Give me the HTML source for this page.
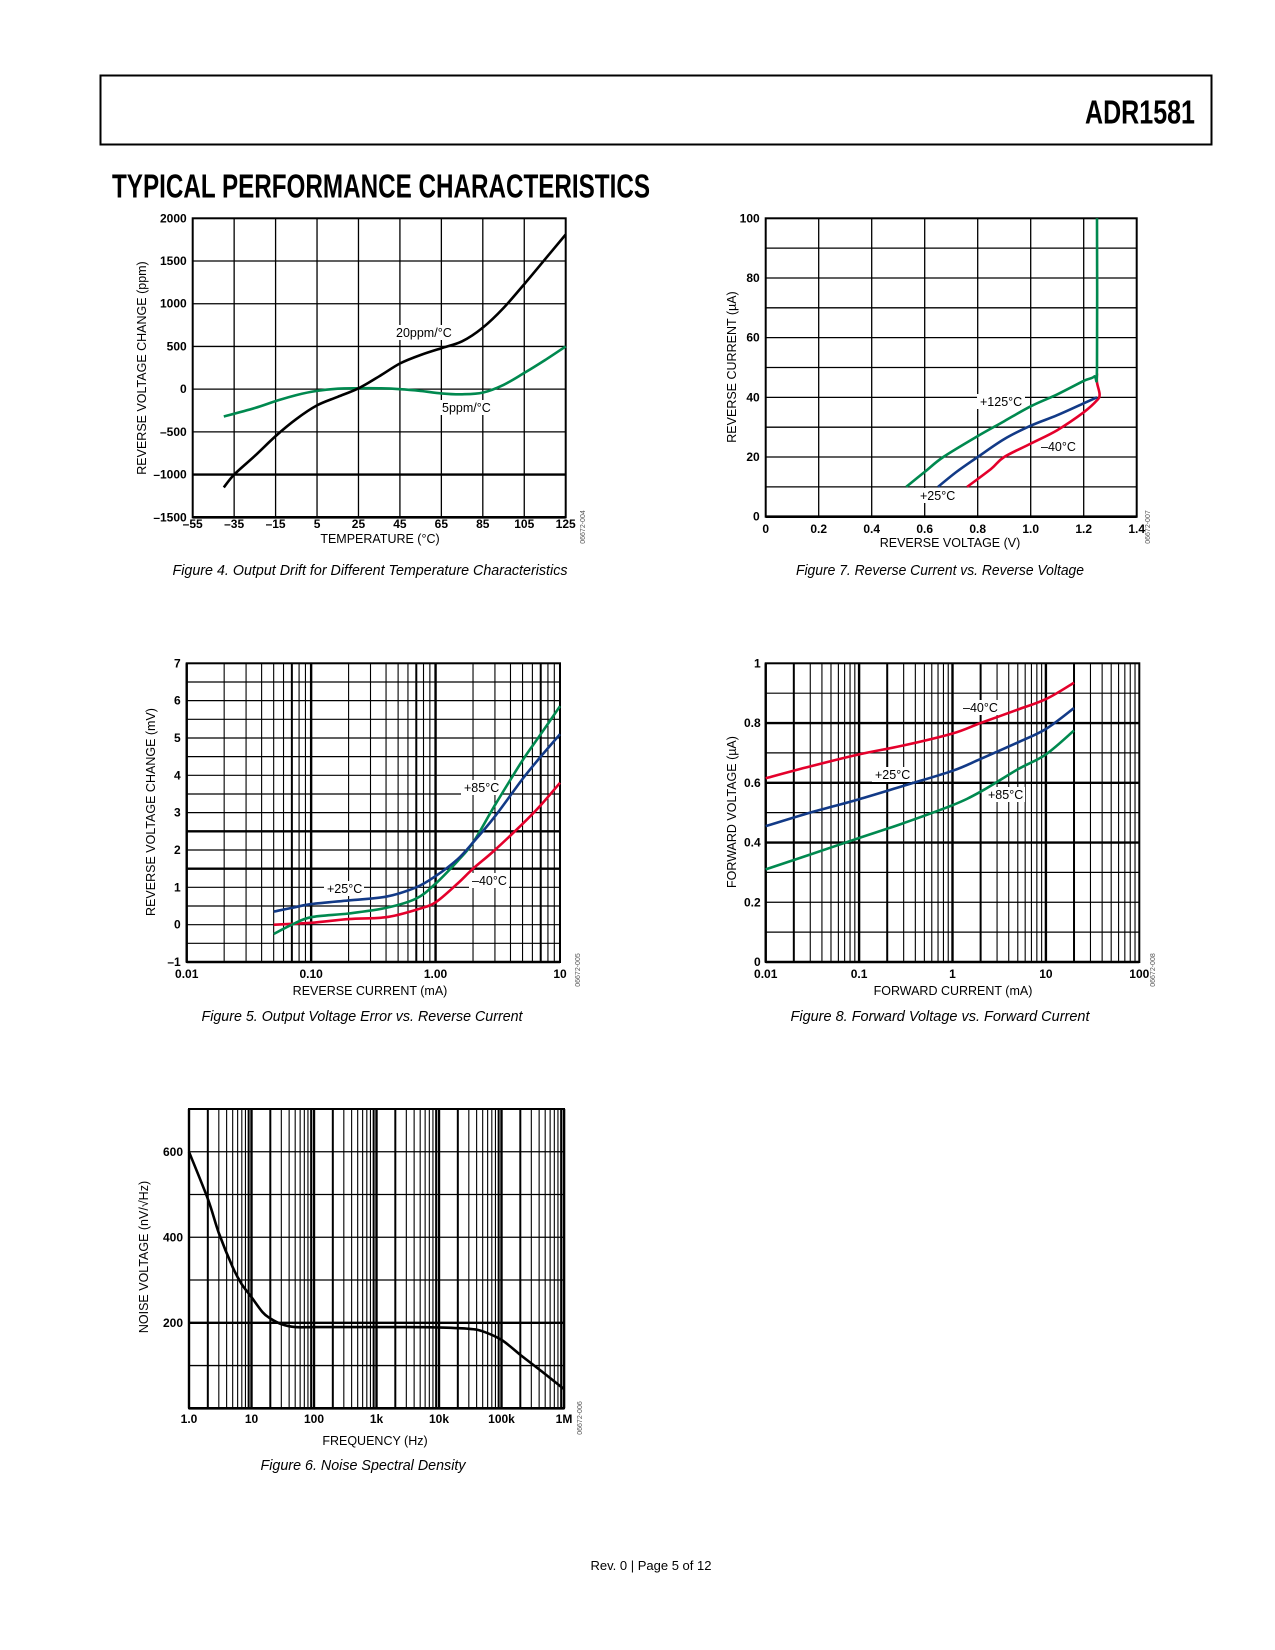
<!DOCTYPE html>
<html><head><meta charset="utf-8"><style>
html,body{margin:0;padding:0;background:#fff}
svg{display:block}
text{font-family:"Liberation Sans",sans-serif}
</style></head><body>
<svg id="pg" width="1275" height="1650" viewBox="0 0 1275 1650" xmlns="http://www.w3.org/2000/svg">
<rect x="100.5" y="75.5" width="1111" height="69" fill="none" stroke="#000" stroke-width="2"/>
<text x="1085" y="123.5" font-size="33" font-weight="bold" textLength="110" lengthAdjust="spacingAndGlyphs">ADR1581</text>
<text x="112" y="197.5" font-size="33" font-weight="bold" textLength="538" lengthAdjust="spacingAndGlyphs">TYPICAL PERFORMANCE CHARACTERISTICS</text>
<text x="370" y="575" font-size="15" font-style="italic" text-anchor="middle" textLength="395" lengthAdjust="spacingAndGlyphs">Figure 4. Output Drift for Different Temperature Characteristics</text>
<text x="940" y="575" font-size="15" font-style="italic" text-anchor="middle" textLength="288" lengthAdjust="spacingAndGlyphs">Figure 7. Reverse Current vs. Reverse Voltage</text>
<text x="362" y="1021" font-size="15" font-style="italic" text-anchor="middle" textLength="321" lengthAdjust="spacingAndGlyphs">Figure 5. Output Voltage Error vs. Reverse Current</text>
<text x="940" y="1021" font-size="15" font-style="italic" text-anchor="middle" textLength="299" lengthAdjust="spacingAndGlyphs">Figure 8. Forward Voltage vs. Forward Current</text>
<text x="363" y="1470" font-size="15" font-style="italic" text-anchor="middle" textLength="205" lengthAdjust="spacingAndGlyphs">Figure 6. Noise Spectral Density</text>
<text x="651" y="1570" font-size="13" text-anchor="middle">Rev. 0 | Page 5 of 12</text>
</svg>
<script>
// ---------- data ----------
// Figure 4
const f4Temps = [-40,-35,-25,-15,-5,5,15,25,35,45,55,65,75,85,95,105,115,125];
const f4Ppm20 = [-1150,-1000,-780,-550,-350,-190,-90,10,150,300,400,480,560,720,950,1230,1520,1810];
const f4Temps5 = [-40,-25,-15,-5,5,15,25,35,45,55,65,75,85,95,105,115,125];
const f4Ppm5 = [-320,-220,-140,-70,-20,5,10,10,0,-20,-50,-60,-40,50,190,340,500];
const f4XTicks = [-55,-35,-15,5,25,45,65,85,105,125];
const f4YTicks = [-1500,-1000,-500,0,500,1000,1500,2000];
// Figure 7
const f7V125 = [0.53,0.6,0.67,0.8,0.9,1.0,1.1,1.2,1.24,1.25,1.25];
const f7I125 = [10,15,20,27,32,37,41,45.5,47,50,100];
const f7V25 = [0.65,0.72,0.8,0.9,1.0,1.1,1.2,1.25];
const f7I25 = [10,15,20,26,30.5,34,38,40];
const f7Vm40 = [0.76,0.85,0.9,1.0,1.1,1.2,1.25,1.26,1.25,1.25];
const f7Im40 = [10,16,20,24.5,29,35,39,41,45,48];
const f7XTicks = ['0','0.2','0.4','0.6','0.8','1.0','1.2','1.4'];
const f7YTicks = [0,20,40,60,80,100];
// Figure 5
const f5I25 = [0.05,0.07,0.1,0.2,0.4,0.7,1.0,1.5,2,3,5,7,10];
const f5V25 = [0.35,0.45,0.55,0.65,0.75,1.0,1.3,1.75,2.2,2.9,3.9,4.5,5.1];
const f5I85 = [0.05,0.07,0.1,0.2,0.4,0.7,1.0,1.5,2,3,5,7,10];
const f5V85 = [-0.25,0,0.2,0.3,0.45,0.7,1.1,1.7,2.2,3.2,4.4,5.1,5.85];
const f5Im40 = [0.05,0.1,0.2,0.4,0.7,1.0,1.5,2,3,5,7,10];
const f5Vm40 = [0,0.05,0.15,0.2,0.4,0.6,1.1,1.5,2.0,2.7,3.2,3.8];
const f5XTicks = ['0.01','0.10','1.00','10'];
const f5YTicks = [-1,0,1,2,3,4,5,6,7];
// Figure 8
const f8I = [0.01,0.03,0.1,0.3,1,2,5,10,20];
const f8Vm40 = [0.615,0.655,0.695,0.725,0.765,0.8,0.845,0.88,0.935];
const f8V25 = [0.455,0.5,0.545,0.59,0.64,0.68,0.735,0.78,0.85];
const f8V85 = [0.31,0.36,0.415,0.465,0.525,0.57,0.645,0.695,0.775];
const f8XTicks = ['0.01','0.1','1','10','100'];
const f8YTicks = ['0','0.2','0.4','0.6','0.8','1'];
// Figure 6
const f6Freq = [1,2,3,5,7,10,15,20,30,50,100,300,1000,3000,10000,30000,50000,100000,200000,300000,500000,1000000];
const f6Noise = [600,490,410,330,290,260,225,210,197,190,190,190,190,190,189,186,180,160,125,105,80,45];
const f6XTicks = ['1.0','10','100','1k','10k','100k','1M'];
const f6YTicks = [200,400,600];

// ---------- helpers ----------
const NS='http://www.w3.org/2000/svg';
const svg=document.getElementById('pg');
function mk(tag,attrs,parent){const e=document.createElementNS(NS,tag);for(const k in attrs)e.setAttribute(k,attrs[k]);(parent||svg).appendChild(e);return e;}
function line(g,x1,y1,x2,y2,w){return mk('line',{x1,y1,x2,y2,stroke:'#000','stroke-width':w},g);}
function txt(g,x,y,s,opts){const t=mk('text',Object.assign({x,y,'font-size':12,'font-weight':'bold'},opts||{}),g);t.textContent=s;return t;}
function smooth(pts){let d='M'+pts[0][0].toFixed(1)+','+pts[0][1].toFixed(1);
 for(let i=0;i<pts.length-1;i++){const p0=pts[i-1]||pts[i],p1=pts[i],p2=pts[i+1],p3=pts[i+2]||p2;
  const c1=[p1[0]+(p2[0]-p0[0])/6,p1[1]+(p2[1]-p0[1])/6],c2=[p2[0]-(p3[0]-p1[0])/6,p2[1]-(p3[1]-p1[1])/6];
  d+=' C'+c1[0].toFixed(1)+','+c1[1].toFixed(1)+' '+c2[0].toFixed(1)+','+c2[1].toFixed(1)+' '+p2[0].toFixed(1)+','+p2[1].toFixed(1);}
 return d;}
function series(g,xs,ys,sx,sy,color){const pts=xs.map((x,i)=>[sx(x),sy(ys[i])]);
 return mk('path',{d:smooth(pts),fill:'none',stroke:color,'stroke-width':2.6,'stroke-linejoin':'round'},g);}
function lbl(g,x,y,s,w){mk('rect',{x:x-3,y:y-12,width:w+6,height:15,fill:'#fff'},g);return txt(g,x,y,s,{'font-size':12.5,'font-weight':'normal'});}
function ytitle(g,x,y,s){return txt(g,x,y,s,{'font-size':12.5,'text-anchor':'middle',transform:`rotate(-90 ${x} ${y})`,'font-weight':'normal'});}
function idcode(g,x,y,s){return txt(g,x,y,s,{'font-size':7,'font-weight':'normal','text-anchor':'middle',fill:'#555',transform:`rotate(-90 ${x} ${y})`});}
const GREEN='#00894f',RED='#e4002b',BLUE='#123a87';

// ---------- Figure 4 ----------
(function(){
 const L=192.7,R=565.7,T=218.3,B=517.3;
 const sx=v=>L+(v+55)/180*(R-L), sy=v=>B-(v+1500)/3500*(B-T);
 const g=mk('g',{});
 
 
 f4XTicks.forEach(v=>{line(g,sx(v),T,sx(v),B,1.3);const t=txt(g,sx(v),528,(v<0?'\u2013'+(-v):''+v),{'text-anchor':'middle'});});
 f4YTicks.forEach(v=>{line(g,L,sy(v),R,sy(v),v===-1000?2.4:1.3);const t=txt(g,L-6,sy(v)+4,(v<0?'\u2013'+(-v):''+v),{'text-anchor':'end'});});
 mk('rect',{x:L,y:T,width:R-L,height:B-T,fill:'none',stroke:'#000','stroke-width':2},g);
 line(g,L,B,R,B,2.6);
 const g5=series(g,f4Temps5,f4Ppm5,sx,sy,GREEN);
 
 
 const g20=series(g,f4Temps,f4Ppm20,sx,sy,'#000');
 
 
 const a=lbl(g,396,337,'20ppm/°C',56);
 const b=lbl(g,442,412,'5ppm/°C',50);
 const xt=txt(g,380,543,'TEMPERATURE (°C)',{'text-anchor':'middle','font-size':12.5,'font-weight':'normal'});
 
 const yt=ytitle(g,146,368,'REVERSE VOLTAGE CHANGE (ppm)');
 
 const id=idcode(g,585,527,'06672-004');
})();

// ---------- Figure 7 ----------
(function(){
 const L=765.7,R=1136.7,T=218.3,B=516.7;
 const sx=v=>L+v/1.4*(R-L), sy=v=>B-v/100*(B-T);
 const g=mk('g',{});
 
 
 f7XTicks.forEach(s=>{const v=parseFloat(s);line(g,sx(v),T,sx(v),B,1.3);const t=txt(g,sx(v),533,s,{'text-anchor':'middle'});});
 for(let v=0;v<=100;v+=10)line(g,L,sy(v),R,sy(v),1.3);
 f7YTicks.forEach(v=>{const t=txt(g,L-6,sy(v)+4,''+v,{'text-anchor':'end'});});
 mk('rect',{x:L,y:T,width:R-L,height:B-T,fill:'none',stroke:'#000','stroke-width':2},g);
 line(g,L,B,R,B,2.6);
 const a=lbl(g,980,406,'+125°C',42);
 const b=lbl(g,1041,451,'\u201340°C',34);
 const c=lbl(g,920,500,'+25°C',34);
 const s1=series(g,f7Vm40,f7Im40,sx,sy,RED);
 const s2=series(g,f7V25,f7I25,sx,sy,BLUE);
 const s3=series(g,f7V125,f7I125,sx,sy,GREEN);
 const xt=txt(g,950,547,'REVERSE VOLTAGE (V)',{'text-anchor':'middle','font-size':12.5,'font-weight':'normal'});
 
 const yt=ytitle(g,736,367,'REVERSE CURRENT (\u00B5A)');
 
 const id=idcode(g,1150,527,'06672-007');
})();

function logGrid(g,L,R,T,B,d0,nd,thick){
 const w=(R-L)/nd;
 for(let d=0;d<nd;d++)for(let m=1;m<10;m++){const x=L+(d+Math.log10(m))*w;line(g,x,T,x,B,m===1?2.4:(thick&&thick.includes(m)?2.0:1.1));}
}

// ---------- Figure 5 ----------
(function(){
 const L=186.7,R=560,T=663.3,B=962;
 const sx=v=>L+(Math.log10(v)+2)/3*(R-L), sy=v=>B-(v+1)/8*(B-T);
 const g=mk('g',{});
 
 
 logGrid(g,L,R,T,B,-2,3,[7]);
 for(let v=-1;v<=7;v+=0.5)line(g,L,sy(v),R,sy(v),(v===1.5||v===2.5)?2.4:1.2);
 f5YTicks.forEach(v=>{const t=txt(g,L-6,sy(v)+4,(v<0?'\u2013'+(-v):''+v),{'text-anchor':'end'});});
 f5XTicks.forEach(s=>{const t=txt(g,sx(parseFloat(s)),978,s,{'text-anchor':'middle'});});
 mk('rect',{x:L,y:T,width:R-L,height:B-T,fill:'none',stroke:'#000','stroke-width':2},g);
 line(g,L,B,R,B,2.6);
 const a=lbl(g,327,893,'+25°C',34);
 const b=lbl(g,464,792,'+85°C',34);
 const c=lbl(g,472,885,'\u201340°C',34);
 const s1=series(g,f5Im40,f5Vm40,sx,sy,RED);
 const s3=series(g,f5I85,f5V85,sx,sy,GREEN);
 const s2=series(g,f5I25,f5V25,sx,sy,BLUE);
 const xt=txt(g,370,995,'REVERSE CURRENT (mA)',{'text-anchor':'middle','font-size':12.5,'font-weight':'normal'});
 
 const yt=ytitle(g,155,812,'REVERSE VOLTAGE CHANGE (mV)');
 
 const id=idcode(g,580,970,'06672-005');
})();

// ---------- Figure 8 ----------
(function(){
 const L=765.7,R=1139.3,T=663.3,B=962;
 const sx=v=>L+(Math.log10(v)+2)/4*(R-L), sy=v=>B-v*(B-T);
 const g=mk('g',{});
 
 
 logGrid(g,L,R,T,B,-2,4,[2]);
 for(let i=0;i<=10;i++){const v=i/10;line(g,L,sy(v),R,sy(v),(i===4||i===6||i===8)?2.4:1.2);}
 f8YTicks.forEach(s=>{const t=txt(g,L-5,sy(parseFloat(s))+4,s,{'text-anchor':'end'});});
 f8XTicks.forEach(s=>{const t=txt(g,sx(parseFloat(s)),978,s,{'text-anchor':'middle'});});
 mk('rect',{x:L,y:T,width:R-L,height:B-T,fill:'none',stroke:'#000','stroke-width':2},g);
 line(g,L,B,R,B,2.6);
 const a=lbl(g,963,712,'\u201340°C',34);
 const b=lbl(g,875,779,'+25°C',34);
 const c=lbl(g,988,799,'+85°C',34);
 const s1=series(g,f8I,f8Vm40,sx,sy,RED);
 const s2=series(g,f8I,f8V25,sx,sy,BLUE);
 const s3=series(g,f8I,f8V85,sx,sy,GREEN);
 const xt=txt(g,953,995,'FORWARD CURRENT (mA)',{'text-anchor':'middle','font-size':12.5,'font-weight':'normal'});
 
 const yt=ytitle(g,736,812,'FORWARD VOLTAGE (\u00B5A)');
 
 const id=idcode(g,1155,970,'06672-008');
})();

// ---------- Figure 6 ----------
(function(){
 const L=189,R=564,T=1109,B=1408.3;
 const sx=v=>L+Math.log10(v)/6*(R-L), sy=v=>B-v/700*(B-T);
 const g=mk('g',{});
 
 
 logGrid(g,L,R,T,B,0,6,[2,9]);
 for(let v=0;v<=700;v+=100)line(g,L,sy(v),R,sy(v),v===200?2.4:1.3);
 f6YTicks.forEach(v=>{const t=txt(g,L-6,sy(v)+4,''+v,{'text-anchor':'end'});});
 f6XTicks.forEach((s,i)=>{const t=txt(g,sx(Math.pow(10,i)),1423,s,{'text-anchor':'middle'});});
 mk('rect',{x:L,y:T,width:R-L,height:B-T,fill:'none',stroke:'#000','stroke-width':2},g);
 line(g,L,B,R,B,2.6);line(g,R,T,R,B,2.6);
 const s=series(g,f6Freq,f6Noise,sx,sy,'#000');
 const xt=txt(g,375,1445,'FREQUENCY (Hz)',{'text-anchor':'middle','font-size':12.5,'font-weight':'normal'});
 
 const yt=ytitle(g,148,1257,'NOISE VOLTAGE (nV/\u221AHz)');
 
 const id=idcode(g,582,1418,'06672-006');
})();
</script>
</body></html>
